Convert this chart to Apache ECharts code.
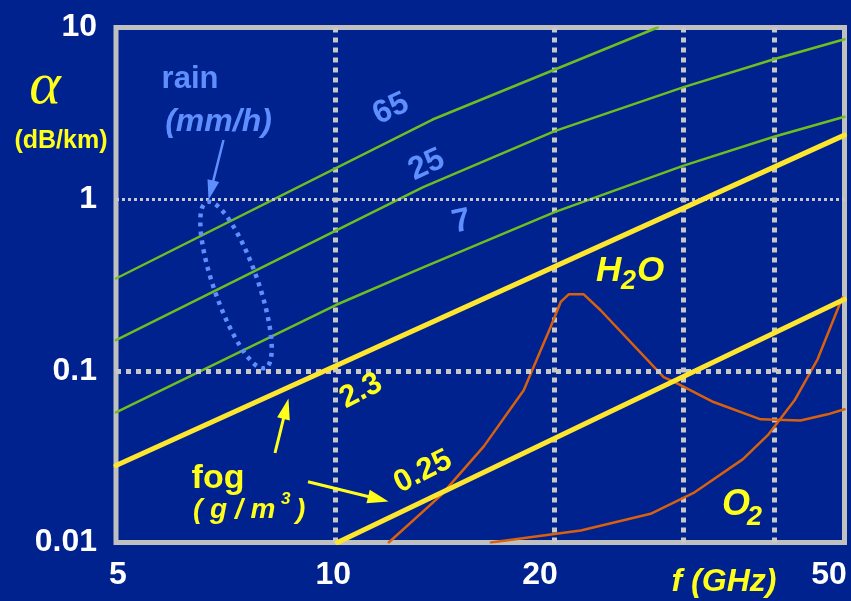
<!DOCTYPE html>
<html>
<head>
<meta charset="utf-8">
<script src="https://cdn.jsdelivr.net/npm/echarts@6/dist/echarts.min.js"></script>
<style>
  html, body { margin: 0; padding: 0; background: #00228f; }
  #chart { width: 851px; height: 601px; }
</style>
</head>
<body>
<div id="chart"></div>
<script>
// Specific attenuation (dB/km) against frequency (GHz), log-log.
// Rain rates in mm/h.
const rain65 = [[5, 0.345], [13.6, 2.91], [27.7, 10]];
const rain25 = [[5, 0.151], [13.2, 1.175], [20, 2.49], [30, 4.48], [40, 6.53], [50, 8.54]];
const rain7 = [[5, 0.0573], [10, 0.241], [13.2, 0.401], [20, 0.84], [30, 1.563], [40, 2.31], [50, 3.02]];
// Fog liquid water content in g/m3.
const fog23 = [[5, 0.0281], [50, 2.36]];
const fog025 = [[10.07, 0.01], [50, 0.261]];
// Gaseous absorption.
const h2o = [[11.84, 0.01], [13.96, 0.0188], [15.99, 0.0363], [18.14, 0.077], [19.14, 0.1317],
  [19.75, 0.18], [20.39, 0.252], [20.91, 0.279], [21.93, 0.279], [23.13, 0.2254], [28.23, 0.092],
  [29.5, 0.0842], [33.05, 0.0658], [38.35, 0.0522], [43.5, 0.0514], [47.4, 0.0558], [50, 0.0597]];
const o2 = [[16.35, 0.01], [21.72, 0.01175], [27.09, 0.0147], [31.03, 0.01944], [36.24, 0.0305],
  [39.33, 0.0427], [42.7, 0.0673], [45.92, 0.1167], [49.68, 0.268]];

// Axis ticks
const xTickValues = [5, 10, 20, 50];
const xTickLabels = ['5', '10', '20', '50'];
const xGridValues = [10, 20, 30, 40];
const yTickValues = [0.01, 0.1, 1, 10];
const yTickLabels = ['0.01', '0.1', '1', '10'];

const FONT = '"Liberation Sans", Arial, sans-serif';
const BG = '#00228f';
const GREEN = '#6cbf1f';
const YELLOW_LINE = '#ffe62e';
const YELLOW = '#ffff1a';
const ORANGE = '#d9600c';
const LIGHT_BLUE = '#5f8fff';
const GRID_GREY = '#c8c8c8';

function labelIndex(values, v) {
  let best = 0, bestD = Infinity;
  values.forEach((t, i) => {
    const d = Math.abs(Math.log10(t) - Math.log10(v));
    if (d < bestD) { bestD = d; best = i; }
  });
  return best;
}

function lineSeries(name, data, color, width, z) {
  return {
    name, type: 'line', data, symbol: 'none', silent: true, z,
    lineStyle: { color, width, cap: 'round', join: 'round' },
    emphasis: { disabled: true }
  };
}

// Straight arrow with a filled head
function arrow(x1, y1, x2, y2, color, width, headLen, headHalf) {
  const dx = x2 - x1, dy = y2 - y1, L = Math.hypot(dx, dy);
  const ux = dx / L, uy = dy / L;
  const bx = x2 - ux * headLen, by = y2 - uy * headLen;
  return [
    { type: 'line', z: 20, shape: { x1, y1, x2: bx + ux * 2, y2: by + uy * 2 },
      style: { stroke: color, lineWidth: width } },
    { type: 'polygon', z: 20,
      shape: { points: [[x2, y2], [bx - uy * headHalf, by + ux * headHalf], [bx + uy * headHalf, by - ux * headHalf]] },
      style: { fill: color } }
  ];
}

// Dotted ring marking the rain curves
function ellipsePoints(cx, cy, a, b, angleDeg, n) {
  const t0 = angleDeg * Math.PI / 180, pts = [];
  for (let i = 0; i < n; i++) {
    const t = 2 * Math.PI * i / n;
    const ex = a * Math.cos(t), ey = b * Math.sin(t);
    pts.push([cx + ex * Math.cos(t0) - ey * Math.sin(t0), cy + ex * Math.sin(t0) + ey * Math.cos(t0)]);
  }
  return pts;
}

function text(str, x, y, size, color, opts) {
  opts = opts || {};
  return {
    type: 'text', x, y, z: 30,
    rotation: (opts.rot || 0) * Math.PI / 180,
    style: {
      text: str, fill: color,
      font: (opts.italic ? 'italic ' : '') + (opts.weight || 'bold') + ' ' + size + 'px ' + (opts.family || FONT),
      align: opts.align || 'center', verticalAlign: 'middle',
      textAlign: opts.align || 'center', textVerticalAlign: 'middle'
    }
  };
}

const xRich = {};
const xPads = [[0, 0, 0, 4], [0, 4, 0, 0], [0, 29, 0, 0], [0, 31, 0, 0]];
xTickLabels.forEach((s, i) => {
  xRich['x' + i] = { color: '#ffffff', fontSize: 32, fontWeight: 'bold', fontFamily: FONT, padding: xPads[i] };
});

const graphics = [].concat(
  [{
    type: 'polygon', z: 15,
    shape: { points: ellipsePoints(236, 285, 88, 22, 70.7, 120) },
    style: { fill: 'none', stroke: LIGHT_BLUE, lineWidth: 4.5, lineDash: [4, 5] }
  }],
  arrow(223.5, 140, 208.5, 200, LIGHT_BLUE, 2.5, 20, 6),
  arrow(275, 453, 288.5, 398.5, YELLOW, 3, 21, 6.5),
  arrow(308, 481.7, 388.5, 501.5, YELLOW, 3, 21, 7),
  [
    text('\u03b1', 45, 87, 60, YELLOW, { italic: true, weight: 'normal', family: '"Liberation Serif", "Times New Roman", serif' }),
    text('(dB/km)', 61, 141.5, 25, YELLOW),
    text('rain', 190, 79, 31, LIGHT_BLUE),
    text('(mm/h)', 218.5, 122, 32, LIGHT_BLUE, { italic: true }),
    text('65', 391, 109, 32, LIGHT_BLUE, { rot: 25 }),
    text('25', 426.7, 165, 32, LIGHT_BLUE, { rot: 25 }),
    text('7', 461.7, 222, 33, LIGHT_BLUE, { rot: 12 }),
    text('2.3', 361, 391, 31, YELLOW, { rot: 27 }),
    text('0.25', 423, 471.7, 31, YELLOW, { rot: 27 }),
    text('fog', 218, 479, 34, YELLOW),
    text('( g / m', 193, 510, 28, YELLOW, { italic: true, align: 'left' }),
    text('3', 281, 499, 17, YELLOW, { italic: true, align: 'left' }),
    text(')', 296, 510, 28, YELLOW, { italic: true, align: 'left' }),
    text('H', 596, 271, 35, YELLOW, { italic: true, align: 'left' }),
    text('2', 621, 282, 27, YELLOW, { italic: true, align: 'left' }),
    text('O', 637, 271, 35, YELLOW, { italic: true, align: 'left' }),
    text('O', 722, 505, 36, YELLOW, { italic: true, align: 'left' }),
    text('2', 747, 518, 27, YELLOW, { italic: true, align: 'left' }),
    text('f (GHz)', 724, 582, 32, YELLOW, { italic: true })
  ]
);

const chart = echarts.init(document.getElementById('chart'));
chart.setOption({
  animation: false,
  backgroundColor: BG,
  grid: {
    left: 116, right: 6.5, top: 27.5, bottom: 58.5,
    show: true, backgroundColor: BG, borderColor: '#c0c0c0', borderWidth: 5
  },
  xAxis: {
    type: 'log', logBase: 10, min: 5, max: 50,
    axisLine: { show: false },
    axisTick: { show: false, customValues: xGridValues },
    splitLine: { show: true, lineStyle: { color: GRID_GREY, width: 5, type: [5, 5] } },
    axisLabel: {
      customValues: xTickValues, margin: 17,
      formatter: v => { const i = labelIndex(xTickValues, v); return '{x' + i + '|' + xTickLabels[i] + '}'; },
      rich: xRich
    }
  },
  yAxis: {
    type: 'log', logBase: 10, min: 0.01, max: 10,
    axisLine: { show: false },
    axisTick: { show: false },
    splitLine: { show: false },
    axisLabel: {
      customValues: yTickValues, margin: 19,
      color: '#ffffff', fontSize: 32, fontWeight: 'bold', fontFamily: FONT,
      padding: [0, 0, 11, 0],
      formatter: v => yTickLabels[labelIndex(yTickValues, v)]
    }
  },
  series: [
    {
      name: 'grid', type: 'line', data: [], symbol: 'none', silent: true, z: 1,
      markLine: {
        silent: true, symbol: 'none', label: { show: false },
        data: [
          { yAxis: 1, lineStyle: { color: GRID_GREY, width: 3, type: [3, 3] } },
          { yAxis: 0.1, lineStyle: { color: GRID_GREY, width: 5, type: [5, 5] } }
        ]
      }
    },
    lineSeries('rain 65 mm/h', rain65, GREEN, 2.5, 3),
    lineSeries('rain 25 mm/h', rain25, GREEN, 2.5, 3),
    lineSeries('rain 7 mm/h', rain7, GREEN, 2.5, 3),
    lineSeries('H2O', h2o, ORANGE, 2.5, 4),
    lineSeries('O2', o2, ORANGE, 2.5, 4),
    lineSeries('fog 2.3 g/m3', fog23, YELLOW_LINE, 5, 5),
    lineSeries('fog 0.25 g/m3', fog025, YELLOW_LINE, 5, 5)
  ],
  graphic: graphics
});
</script>
</body>
</html>
